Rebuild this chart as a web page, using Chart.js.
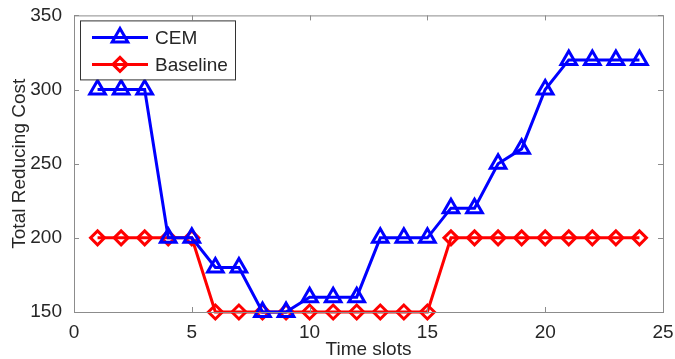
<!DOCTYPE html>
<html>
<head>
<meta charset="utf-8">
<script src="https://cdn.jsdelivr.net/npm/chart.js@4"></script>
<style>
  html, body { margin: 0; padding: 0; background: #fff; }
  #wrap { width: 675px; height: 359px; }
</style>
</head>
<body>
<div id="wrap"><canvas id="chart"></canvas></div>
<script>
const slots = [1,2,3,4,5,6,7,8,9,10,11,12,13,14,15,16,17,18,19,20,21,22,23,24];
const cem = [300,300,300,200,200,180,180,150,150,160,160,160,200,200,200,220,220,250,260,300,320,320,320,320];
const baseline = [200,200,200,200,200,150,150,150,150,150,150,150,150,150,150,200,200,200,200,200,200,200,200,200];
const xTicks = [0,5,10,15,20,25];
const yTicks = [150,200,250,300,350];

const FONT = "'Liberation Sans', Arial, sans-serif";
const TEXT = "#262626";

// box round the plot, ticks pointing inward, legend inside top-left
const frame = {
    id: "frame",
    afterDatasetsDraw(c) {
        const ctx = c.ctx, a = c.chartArea;
        const xs = c.scales.x, ys = c.scales.y;
        ctx.save();
        ctx.strokeStyle = "#8c8c8c";
        ctx.lineWidth = 1;
        ctx.strokeRect(a.left + 0.5, a.top + 0.5, a.right - a.left, a.bottom - a.top);
        ctx.beginPath();
        xTicks.forEach(v => {
            const px = Math.round(xs.getPixelForValue(v)) + 0.5;
            ctx.moveTo(px, a.bottom); ctx.lineTo(px, a.bottom - 5);
            ctx.moveTo(px, a.top); ctx.lineTo(px, a.top + 5);
        });
        yTicks.forEach(v => {
            const py = Math.round(ys.getPixelForValue(v)) + 0.5;
            ctx.moveTo(a.left, py); ctx.lineTo(a.left + 5, py);
            ctx.moveTo(a.right, py); ctx.lineTo(a.right - 5, py);
        });
        ctx.stroke();

        // legend
        const lx = a.left + 6, ly = a.top + 5, lw = 155, lh = 59;
        ctx.fillStyle = "#fff";
        ctx.fillRect(lx, ly, lw, lh);
        ctx.strokeStyle = "#333";
        ctx.strokeRect(lx + 0.5, ly + 0.5, lw, lh);
        c.data.datasets.forEach((ds, i) => {
            const cy = ly + 17 + i * 27;
            ctx.strokeStyle = ds.borderColor;
            ctx.lineWidth = 3;
            ctx.beginPath();
            ctx.moveTo(lx + 12, cy); ctx.lineTo(lx + 68, cy);
            ctx.stroke();
            ctx.fillStyle = "rgba(0,0,0,0)";
            Chart.helpers.drawPoint(ctx, {
                pointStyle: ds.pointStyle, radius: ds.pointRadius, borderWidth: 3, rotation: 0
            }, lx + 40, cy);
            ctx.fillStyle = TEXT;
            ctx.font = "19px " + FONT;
            ctx.textBaseline = "middle";
            ctx.fillText(ds.label, lx + 75, cy + 1);
        });
        ctx.restore();
    }
};

new Chart(document.getElementById("chart"), {
    type: "line",
    data: {
        labels: slots,
        datasets: [{
            label: "CEM",
            data: cem,
            borderColor: "#0000ff",
            backgroundColor: "rgba(0,0,0,0)",
            pointBorderColor: "#0000ff",
            pointBackgroundColor: "rgba(0,0,0,0)",
            borderWidth: 3,
            pointStyle: "triangle",
            pointRadius: 9,
            pointBorderWidth: 3,
            tension: 0
        }, {
            label: "Baseline",
            data: baseline,
            borderColor: "#ff0000",
            backgroundColor: "rgba(0,0,0,0)",
            pointBorderColor: "#ff0000",
            pointBackgroundColor: "rgba(0,0,0,0)",
            borderWidth: 3,
            pointStyle: "rectRot",
            pointRadius: 7,
            pointBorderWidth: 3,
            tension: 0
        }]
    },
    options: {
        responsive: true,
        maintainAspectRatio: false,
        animation: false,
        clip: false,
        layout: { padding: { top: 14, right: 11, left: 0, bottom: 0 } },
        plugins: { legend: { display: false }, tooltip: { enabled: false } },
        scales: {
            x: {
                type: "linear",
                min: 0, max: 25,
                afterBuildTicks: s => { s.ticks = xTicks.map(v => ({ value: v })); },
                afterFit: s => { s.height = 47; },
                grid: { display: false },
                border: { display: false },
                ticks: { color: TEXT, font: { family: FONT, size: 19 }, padding: 1, maxRotation: 0 },
                title: { display: true, text: "Time slots", color: TEXT, font: { family: FONT, size: 19 }, padding: { top: 0, bottom: -2 } }
            },
            y: {
                min: 150, max: 350,
                afterBuildTicks: s => { s.ticks = yTicks.map(v => ({ value: v })); },
                afterFit: s => { s.width = 74; },
                grid: { display: false },
                border: { display: false },
                ticks: { color: TEXT, font: { family: FONT, size: 19 }, padding: 4 },
                title: { display: true, text: "Total Reducing Cost", color: TEXT, font: { family: FONT, size: 19 }, padding: { top: 8, bottom: 0 } }
            }
        }
    },
    plugins: [frame]
});
</script>
</body>
</html>
